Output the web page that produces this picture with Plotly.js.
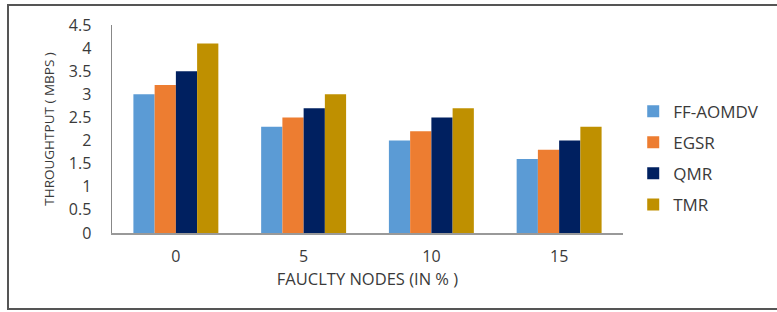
<!DOCTYPE html>
<html>
<head>
<meta charset="utf-8">
<script src="https://cdn.plot.ly/plotly-3.0.1.min.js"></script>
<style>html,body{margin:0;padding:0;background:#fff;}#chart{width:777px;height:312px;}</style>
</head>
<body>
<div id="chart"></div>
<script>
const categories = ["0", "5", "10", "15"];
const seriesNames = ["FF-AOMDV", "EGSR", "QMR", "TMR"];
const ffAomdv = [3.0, 2.3, 2.0, 1.6];
const egsr = [3.2, 2.5, 2.2, 1.8];
const qmr = [3.5, 2.7, 2.5, 2.0];
const tmr = [4.1, 3.0, 2.7, 2.3];
const yTicks = [0, 0.5, 1, 1.5, 2, 2.5, 3, 3.5, 4, 4.5];
const yTickText = ["0", "0.5", "1", "1.5", "2", "2.5", "3", "3.5", "4", "4.5"];
const colors = ["#5B9BD5", "#ED7D31", "#002060", "#BF9000"];

const values = [ffAomdv, egsr, qmr, tmr];
const traces = seriesNames.map((n, i) => ({
  type: "bar",
  name: n,
  x: categories,
  y: values[i],
  legendgroup: n,
  marker: {color: colors[i], line: {width: 0}},
  hoverinfo: "x+y+name"
}));

const font = "Open Sans, Liberation Sans, sans-serif";
const txt = "#3a3a3a";
const layout = {
  width: 777, height: 312,
  margin: {l: 112, r: 154, t: 25, b: 79},
  paper_bgcolor: "#fff", plot_bgcolor: "#fff",
  font: {family: font, color: txt, size: 15},
  barmode: "group", bargap: 0.335, bargroupgap: 0,
  showlegend: true,
  legend: {x: 1.02, xanchor: "left", y: 0.36, yanchor: "middle",
           font: {family: font, size: 17, color: txt},
           traceorder: "grouped", tracegroupgap: 6, itemwidth: 30},
  xaxis: {
    type: "category", showgrid: false, zeroline: false,
    showline: true, linecolor: "#999", linewidth: 1.5,
    ticks: "outside", ticklen: 8, tickcolor: "rgba(0,0,0,0)",
    tickfont: {family: font, size: 16, color: txt},
    title: {text: "FAUCLTY NODES (IN % )", font: {family: font, size: 16.5, color: txt}, standoff: 2}
  },
  yaxis: {
    range: [0, 4.5], showgrid: false, zeroline: false,
    showline: true, linecolor: "#888", linewidth: 1.5,
    tickvals: yTicks, ticktext: yTickText,
    ticks: "outside", ticklen: 16, tickcolor: "rgba(0,0,0,0)",
    tickfont: {family: font, size: 16, color: txt},
    title: {text: "THROUGHTPUT ( MBPS )", font: {family: font, size: 13.5, color: txt}, standoff: 11}
  },
  shapes: [{
    type: "rect", xref: "paper", yref: "paper",
    x0: (8 - 112) / 511, x1: (790 - 112) / 511,
    y0: (312 - 79 - 309) / 208, y1: (312 - 79 - 5) / 208,
    line: {color: "#555", width: 2}, fillcolor: "rgba(0,0,0,0)", layer: "below"
  }]
};

Plotly.newPlot("chart", traces, layout, {displayModeBar: false, staticPlot: true});
</script>
</body>
</html>
